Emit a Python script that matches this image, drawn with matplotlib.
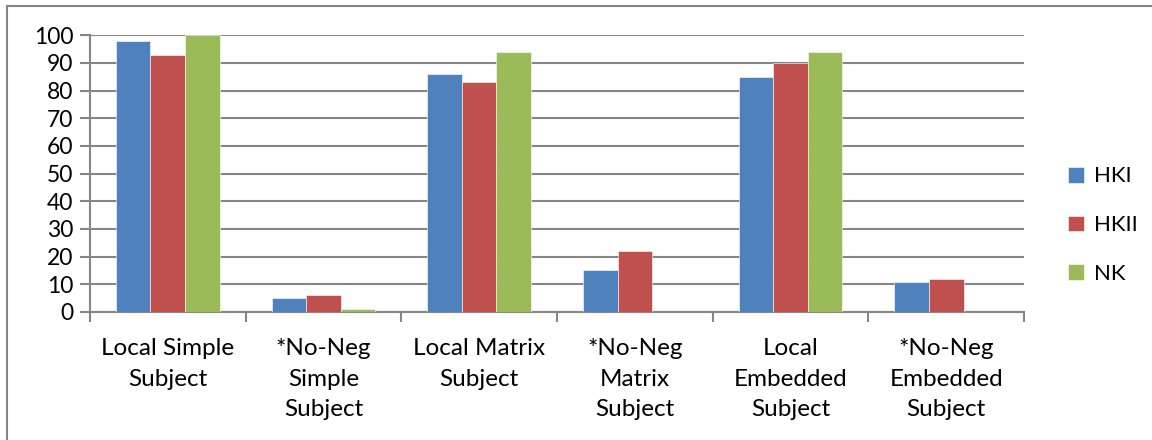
import numpy as np
import matplotlib.pyplot as plt
from matplotlib.lines import Line2D

categories = ["Local Simple\nSubject", "*No-Neg\nSimple\nSubject", "Local Matrix\nSubject",
              "*No-Neg\nMatrix\nSubject", "Local\nEmbedded\nSubject", "*No-Neg\nEmbedded\nSubject"]
series_names = ["HKI", "HKII", "NK"]
hki = [98, 5, 86, 15, 85, 11]
hkii = [93, 6, 83, 22, 90, 12]
nk = [100, 1, 94, 0, 94, 0]
colors = ["#4f81bd", "#c0504d", "#9bbb59"]
grid_color = "#868686"

plt.rcParams["font.family"] = ["Lato", "DejaVu Sans"]

fig = plt.figure(figsize=(11.52, 4.4), dpi=100)
ax = fig.add_axes([0.078, 0.291, 0.811, 0.629])

x = np.arange(len(categories))
width = 0.222
for i, (vals, name) in enumerate(zip([hki, hkii, nk], series_names)):
    ax.bar(x + (i - 1) * width, vals, width, color=colors[i], label=name,
           edgecolor="white", linewidth=0.4, zorder=3)

ax.set_xlim(-0.5, len(categories) - 0.5)
ax.set_ylim(0, 100)
ax.set_yticks(range(0, 101, 10))
ax.yaxis.grid(True, color=grid_color, linewidth=1.5, zorder=0)
ax.set_axisbelow(True)

# category labels centred, tick marks between categories
ax.set_xticks(x)
ax.set_xticklabels(categories, fontsize=17.5, va="top", linespacing=1.55)
ax.tick_params(axis="x", length=0, pad=19)
ax.set_xticks(np.arange(-0.5, len(categories)), minor=True)
ax.tick_params(axis="x", which="minor", length=7, width=1.5, color=grid_color, direction="out")
ax.tick_params(axis="y", labelsize=16.5, length=7, width=1.5, color=grid_color, pad=5)

for side in ["top", "right"]:
    ax.spines[side].set_visible(False)
for side in ["left", "bottom"]:
    ax.spines[side].set_color(grid_color)
    ax.spines[side].set_linewidth(1.5)

ax.legend(loc="center left", bbox_to_anchor=(0.91, 0.488), bbox_transform=fig.transFigure,
          frameon=False, fontsize=16, handlelength=0.72, handleheight=0.72,
          labelspacing=1.3, handletextpad=0.45)

# outer chart frame (left and top edges)
fig.add_artist(Line2D([0.0065, 0.0065], [0, 0.986], transform=fig.transFigure,
                      color=grid_color, linewidth=1.5))
fig.add_artist(Line2D([0.0065, 1.0], [0.986, 0.986], transform=fig.transFigure,
                      color=grid_color, linewidth=1.5))

fig.savefig("out.png", dpi=100)
